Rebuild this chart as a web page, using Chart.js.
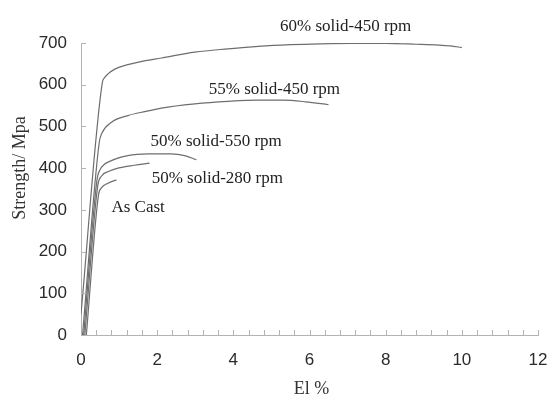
<!DOCTYPE html>
<html>
<head>
<meta charset="utf-8">
<script src="https://cdn.jsdelivr.net/npm/chart.js@4.4.1/dist/chart.umd.min.js"></script>
<style>
  html, body { margin: 0; padding: 0; background: #fff; }
  #wrap { width: 548px; height: 396px; }
</style>
</head>
<body>
<div id="wrap"><canvas id="chart" width="548" height="396"></canvas></div>
<script>
// tick labels
const xTickLabels = [0, 2, 4, 6, 8, 10, 12];
const yTickLabels = [0, 100, 200, 300, 400, 500, 600, 700];

// curve names
const seriesNames = ['60% solid-450 rpm', '55% solid-450 rpm', '50% solid-550 rpm', '50% solid-280 rpm', 'As Cast'];

// elongation (El %) and strength (MPa)
const el60 = [0.0, 0.56, 0.62, 0.71, 0.9, 1.23, 1.6, 2.11, 2.99, 3.86, 4.65, 5.5, 6.3, 7.1, 8.0, 8.8, 9.4, 9.7, 10.0];
const st60 = [50, 605, 617, 626, 638, 648, 656, 664, 678, 686, 692, 696, 698, 699, 699, 697, 695, 693, 689];

const el55 = [0.04, 0.48, 0.55, 0.8, 1.23, 1.7, 2.11, 2.99, 3.86, 4.65, 5.3, 5.9, 6.5];
const st55 = [0, 462, 484, 510, 526, 536, 544, 554, 560, 563, 563, 559, 552];

const el550 = [0.07, 0.42, 0.5, 0.8, 1.23, 1.76, 2.37, 2.72, 3.03];
const st550 = [0, 372, 396, 418, 430, 434, 434, 430, 420];

const el280 = [0.1, 0.44, 0.53, 0.75, 0.97, 1.4, 1.8];
const st280 = [0, 358, 380, 393, 400, 407, 412];

const elCast = [0.14, 0.46, 0.53, 0.71, 0.93];
const stCast = [0, 336, 352, 364, 372];

// where each curve name sits, in data units
const nameAtX = [6.95, 5.08, 3.55, 3.58, 1.5];
const nameAtY = [739, 588, 463, 374, 306];

const pairs = (xs, ys) => xs.map((x, i) => ({ x: x, y: ys[i] }));
const curves = [pairs(el60, st60), pairs(el55, st55), pairs(el550, st550), pairs(el280, st280), pairs(elCast, stCast)];

const lineColor = '#6e6e6e';
const axisColor = '#b3b3b3';

// small ticks pointing into the plot, like the original
const innerTicks = {
    id: 'innerTicks',
    afterDraw(chart) {
        const ctx = chart.ctx;
        const xs = chart.scales.x;
        const ys = chart.scales.y;
        const area = chart.chartArea;
        ctx.save();
        ctx.strokeStyle = axisColor;
        ctx.lineWidth = 1;
        ctx.beginPath();
        xs.ticks.forEach(t => {
            const px = Math.round(xs.getPixelForValue(t.value)) + 0.5;
            ctx.moveTo(px, area.bottom);
            ctx.lineTo(px, area.bottom - 5);
        });
        ys.ticks.forEach(t => {
            const py = Math.round(ys.getPixelForValue(t.value)) + 0.5;
            ctx.moveTo(area.left, py);
            ctx.lineTo(area.left + 5, py);
        });
        ctx.stroke();
        ctx.restore();
    }
};

// curve names and axis titles
const textLayer = {
    id: 'textLayer',
    afterDraw(chart) {
        const ctx = chart.ctx;
        const xs = chart.scales.x;
        const ys = chart.scales.y;
        ctx.save();
        ctx.fillStyle = '#222';
        ctx.font = '17px "Liberation Serif", "Times New Roman", serif';
        ctx.textAlign = 'center';
        ctx.textBaseline = 'middle';
        seriesNames.forEach((name, i) => {
            ctx.fillText(name, xs.getPixelForValue(nameAtX[i]), ys.getPixelForValue(nameAtY[i]));
        });

        ctx.fillStyle = '#333';
        ctx.font = '18px "Liberation Serif", "Times New Roman", serif';
        ctx.textBaseline = 'alphabetic';
        ctx.fillText('El %', (chart.chartArea.left + chart.chartArea.right) / 2 + 2, 394);

        ctx.textBaseline = 'middle';
        ctx.translate(20, 168);
        ctx.rotate(-Math.PI / 2);
        ctx.fillText('Strength/ Mpa', 0, 0);
        ctx.restore();
    }
};

new Chart(document.getElementById('chart'), {
    type: 'scatter',
    data: {
        datasets: curves.map((pts, i) => ({
            label: seriesNames[i],
            data: pts,
            showLine: true,
            borderColor: lineColor,
            borderWidth: 1.2,
            pointRadius: 0,
            cubicInterpolationMode: 'monotone',
            fill: false
        }))
    },
    options: {
        responsive: false,
        animation: false,
        layout: {
            padding: { left: 0, right: 10, top: 43, bottom: 0 }
        },
        scales: {
            x: {
                type: 'linear',
                min: 0,
                max: 12,
                afterFit: s => { s.height = 61; s.paddingLeft = 0; s.paddingRight = 0; },
                border: { color: axisColor, width: 1 },
                grid: { display: false, drawTicks: false },
                ticks: {
                    stepSize: 0.4,
                    autoSkip: false,
                    maxRotation: 0,
                    padding: 15,
                    color: '#2a2a2a',
                    font: { size: 17, family: '"Liberation Sans", Arial, sans-serif' },
                    callback: v => {
                        const hit = xTickLabels.find(t => Math.abs(t - v) < 1e-6);
                        return hit === undefined ? '' : String(hit);
                    }
                }
            },
            y: {
                type: 'linear',
                min: 0,
                max: 700,
                afterFit: s => { s.width = 81; s.paddingTop = 0; s.paddingBottom = 0; },
                border: { color: axisColor, width: 1 },
                grid: { display: false, drawTicks: false },
                ticks: {
                    stepSize: 100,
                    padding: 14,
                    color: '#2a2a2a',
                    font: { size: 17, family: '"Liberation Sans", Arial, sans-serif' },
                    callback: v => yTickLabels.includes(v) ? String(v) : ''
                }
            }
        },
        plugins: {
            legend: { display: false },
            tooltip: { enabled: false }
        }
    },
    plugins: [innerTicks, textLayer]
});
</script>
</body>
</html>
